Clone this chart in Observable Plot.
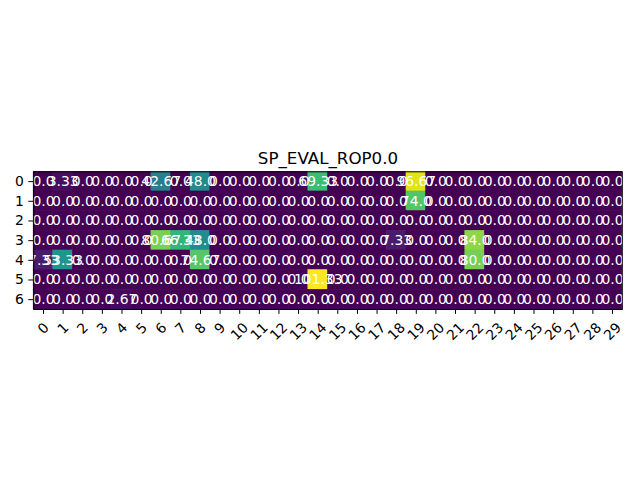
<!DOCTYPE html>
<html>
<head>
<meta charset="utf-8">
<script src="https://cdn.jsdelivr.net/npm/d3@7"></script>
<script src="https://cdn.jsdelivr.net/npm/@observablehq/plot@0.6"></script>
<style>
  html, body { margin: 0; padding: 0; background: white; }
</style>
</head>
<body>
<div id="chart"></div>
<script>
const title = "SP_EVAL_ROP0.0";
const columns = d3.range(30);
const rowLabels = [0, 1, 2, 3, 4, 5, 6];
const row0 = [0, 3.33, 0, 0, 0, 0, 42.67, 0, 48.0, 0, 0, 0, 0, 0, 69.33, 0, 0, 0, 0, 96.67, 0, 0, 0, 0, 0, 0, 0, 0, 0, 0];
const row1 = [0, 0, 0, 0, 0, 0, 0, 0, 0, 0, 0, 0, 0, 0, 0, 0, 0, 0, 0, 74.0, 0, 0, 0, 0, 0, 0, 0, 0, 0, 0];
const row2 = [0, 0, 0, 0, 0, 0, 0, 0, 0, 0, 0, 0, 0, 0, 0, 0, 0, 0, 0, 0, 0, 0, 0, 0, 0, 0, 0, 0, 0, 0];
const row3 = [0, 0, 0, 0, 0, 0, 80.67, 66.33, 48.0, 0, 0, 0, 0, 0, 0, 0, 0, 0, 7.33, 0, 0, 0, 84.0, 0, 0, 0, 0, 0, 0, 0];
const row4 = [7.33, 53.33, 0, 0, 0, 0, 0, 0, 74.67, 0, 0, 0, 0, 0, 0, 0, 0, 0, 0, 0, 0, 0, 80.0, 0, 0, 0, 0, 0, 0, 0];
const row5 = [0, 0, 0, 0, 0, 0, 0, 0, 0, 0, 0, 0, 0, 0, 101.33, 0, 0, 0, 0, 0, 0, 0, 0, 0, 0, 0, 0, 0, 0, 0];
const row6 = [0, 0, 0, 0, 2.67, 0, 0, 0, 0, 0, 0, 0, 0, 0, 0, 0, 0, 0, 0, 0, 0, 0, 0, 0, 0, 0, 0, 0, 0, 0];
const rows = [row0, row1, row2, row3, row4, row5, row6];

const data = [];
rows.forEach((vals, r) => vals.forEach((v, c) => data.push({r: rowLabels[r], c: columns[c], v})));
const fmt = v => Number.isInteger(v) ? v.toFixed(1) : String(v);
const vmax = d3.max(data, d => d.v);

const chart = Plot.plot({
  width: 640,
  height: 480,
  marginLeft: 33.2,
  marginRight: 18.2,
  marginTop: 171.3,
  marginBottom: 171,
  style: {fontFamily: "DejaVu Sans", fontSize: "13.9px", background: "white", color: "black"},
  x: {type: "band", domain: columns, padding: 0, round: false, axis: null},
  y: {type: "band", domain: rowLabels, padding: 0, round: false, axis: null},
  color: {scheme: "viridis", domain: [0, vmax]},
  marks: [
    Plot.cell(data, {x: "c", y: "r", fill: "v", stroke: "v", strokeWidth: 0.6}),
    Plot.text(data, {x: "c", y: "r", text: d => fmt(d.v), fill: "white", fontSize: 13.9}),
    Plot.frame({stroke: "black", strokeWidth: 1}),
    Plot.axisY({tickSize: 4.9, tickPadding: 4.9, label: null, fontSize: 13.9, stroke: "black"}),
    Plot.axisX({tickSize: 4.9, tickFormat: () => "", label: null, stroke: "black"}),
    Plot.text(columns.filter(c => c < 10), {x: d => d, text: d => String(d), frameAnchor: "bottom", rotate: -45, dy: 19, textAnchor: "middle", lineAnchor: "middle", fontSize: 13.9, fill: "black"}),
    Plot.text(columns.filter(c => c >= 10), {x: d => d, text: d => String(d), frameAnchor: "bottom", rotate: -45, dy: 22, textAnchor: "middle", lineAnchor: "middle", fontSize: 13.9, fill: "black"}),
    Plot.text([title], {text: d => d, frameAnchor: "top", dy: -8, lineAnchor: "bottom", fontSize: 16.7, fill: "black"})
  ]
});
document.getElementById("chart").append(chart);
</script>
</body>
</html>
